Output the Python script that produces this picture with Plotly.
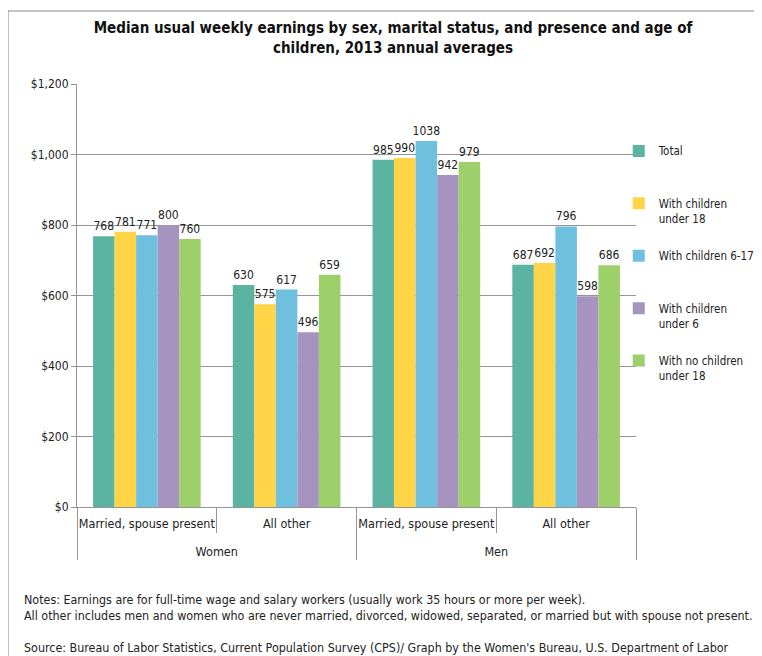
import plotly.graph_objects as go

sex = ["Women", "Women", "Men", "Men"]
status = ["Married, spouse present", "All other", "Married, spouse present", "All other"]
series_names = ["Total", "With children under 18", "With children 6-17", "With children under 6", "With no children under 18"]
legend_labels = ["Total<br> ", "With children<br>under 18", "With children 6-17<br> ", "With children<br>under 6", "With no children<br>under 18"]
total = [768, 630, 985, 687]
under18 = [781, 575, 990, 692]
age6_17 = [771, 617, 1038, 796]
under6 = [800, 496, 942, 598]
no_children = [760, 659, 979, 686]
y_ticks = [0, 200, 400, 600, 800, 1000, 1200]
y_tick_labels = ["$0", "$200", "$400", "$600", "$800", "$1,000", "$1,200"]

colors = ["#5BB3A1", "#FFD447", "#6FC0DE", "#A693BF", "#9DCF6B"]
values = [total, under18, age6_17, under6, no_children]

FONT = "DejaVu Sans Condensed, DejaVu Sans"

# outer-level labels sit one line lower, as in the reference
sex_axis = ["<br>" + s for s in sex]

fig = go.Figure()
for name, lab, vals, col in zip(series_names, legend_labels, values, colors):
    fig.add_trace(go.Bar(
        x=[sex_axis, status], y=vals, name=lab, legendgroup=name,
        marker=dict(color=col, line=dict(width=0)),
        text=[str(v) for v in vals], textposition="outside", constraintext="none",
        textfont=dict(family=FONT, size=12, color="#222"),
        cliponaxis=False,
    ))

# the page adds an 8px offset, so the figure is 8px smaller than the window
fig.update_layout(
    width=754, height=648,
    margin=dict(l=69, r=126, t=76, b=149, autoexpand=False),
    paper_bgcolor="white", plot_bgcolor="white",
    barmode="group", bargap=0.23, bargroupgap=0,
    font=dict(family=FONT, size=12, color="#222"),
    title=dict(text="<b>Median usual weekly earnings by sex, marital status, and presence and age of<br>children, 2013 annual averages</b>",
               x=0.5106, xanchor="center", y=0.9614, yanchor="top",
               font=dict(family=FONT, size=15, color="#111")),
    legend=dict(xref="container", yref="container", x=0.81, xanchor="left", y=0.801, yanchor="top",
                font=dict(family=FONT, size=11.5, color="#222"),
                tracegroupgap=19.5, valign="top", itemwidth=30, bgcolor="rgba(0,0,0,0)"),
    showlegend=True,
)
fig.update_yaxes(range=[0, 1200], tickvals=y_ticks, ticktext=y_tick_labels, automargin=False,
                 showgrid=True, gridcolor="#959595", gridwidth=1,
                 showline=True, linecolor="#959595", ticks="outside", ticklen=5, tickcolor="#959595",
                 tickfont=dict(family=FONT, size=12, color="#222"), zeroline=False)
fig.update_xaxes(type="multicategory", showline=True, linecolor="#959595", automargin=False,
                 ticks="outside", ticklen=25, tickcolor="#959595", tickangle=0,
                 ticklabelstandoff=5,
                 showdividers=True, dividercolor="#959595", dividerwidth=1,
                 tickfont=dict(family=FONT, size=12.5, color="#222"))

# frame lines
fig.add_shape(type="line", xref="paper", yref="paper", x0=-0.1234, x1=1.23, y0=1.1726, y1=1.1726,
              line=dict(color="#888", width=1))
fig.add_shape(type="line", xref="paper", yref="paper", x0=-0.1234, x1=-0.1234, y0=1.1726, y1=-0.36,
              line=dict(color="#888", width=1))

notes = ("Notes: Earnings are for full-time wage and salary workers (usually work 35 hours or more per week).<br>"
         "All other includes men and women who are never married, divorced, widowed, separated, or married but with spouse not present.")
source = "Source: Bureau of Labor Statistics, Current Population Survey (CPS)/ Graph by the Women's Bureau, U.S. Department of Labor"
fig.add_annotation(text=notes, xref="paper", yref="paper", x=-0.0984, y=-0.196, xanchor="left", yanchor="top",
                   showarrow=False, align="left", font=dict(family=FONT, size=12.4, color="#222"))
fig.add_annotation(text=source, xref="paper", yref="paper", x=-0.0984, y=-0.3097, xanchor="left", yanchor="top",
                   showarrow=False, align="left", font=dict(family=FONT, size=12.4, color="#222"))

fig.write_html("out.html")
